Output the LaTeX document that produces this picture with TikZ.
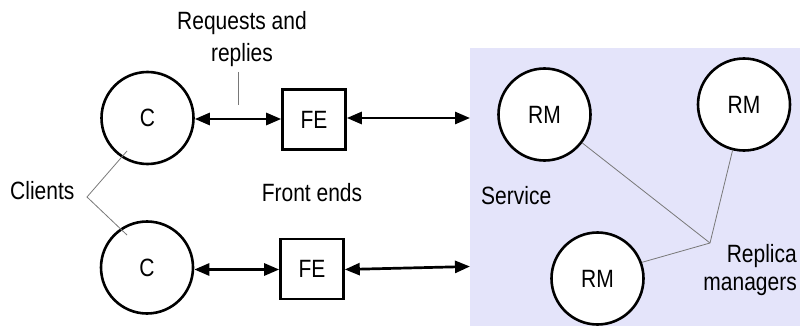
\documentclass[tikz,border=0pt]{standalone}
\usepackage{fontspec}
\setmainfont{Liberation Sans}[FakeStretch=0.84]
\usetikzlibrary{arrows.meta,calc}
\definecolor{svc}{RGB}{228,228,250}
\definecolor{thin}{RGB}{120,120,120}
\begin{document}
\begin{tikzpicture}[x=1pt,y=-1pt,
  font=\fontsize{25}{30}\selectfont,
  circ/.style={circle,draw,line width=2.6pt,minimum size=92pt,inner sep=0pt,fill=white},
  febox/.style={draw,line width=2.6pt,minimum width=63pt,minimum height=60pt,inner sep=0pt},
  arr/.style={line width=2.7pt,{Triangle[length=15pt,width=12pt]}-{Triangle[length=15pt,width=12pt]}},
  lbl/.style={inner sep=0pt},
  thinline/.style={draw=thin,line width=0.8pt}]
\useasboundingbox (0,0) rectangle (800,326);
% service area
\node[fill=svc,draw=none,minimum width=330pt,minimum height=278pt,anchor=north west,inner sep=0pt] (svc) at (470,48) {};
% clients
\node[circ] (c1) at (147.5,118) {C};
\node[circ] (c2) at (147,267.5) {C};
% front ends
\node[febox] (fe1) at (314,119.5) {FE};
\node[febox] (fe2) at (312,269) {FE};
% replica managers
\node[circ] (rm1) at (544.5,114.5) {RM};
\node[circ] (rm2) at (744,104.5) {RM};
\node[circ] (rm3) at (597.5,278.5) {RM};
% arrows
\draw[arr] (c1.east |- 0,119) -- (fe1.west |- 0,119);
\draw[arr] (c2.east |- 0,269.5) -- (fe2.west |- 0,269.5);
\coordinate (s1) at (svc.west |- 0,118);
\coordinate (s2) at (svc.west |- 0,266.5);
\draw[arr] (fe1.east |- 0,118) -- (s1);
\draw[arr] (fe2.east |- 0,269.5) -- (s2);
% labels
\node[lbl,align=center,font=\fontsize{25}{32}\selectfont] (req) at (242,39) {Requests and\\replies};
\coordinate (reqtop) at (238,72);
\coordinate (reqbot) at (238,105);
\draw[thinline] (reqtop) -- (reqbot);
\node[lbl,anchor=west] (cl) at (10,191) {Clients};
\coordinate (clj) at (87,197);
\coordinate (cla) at (127,151);
\coordinate (clb) at (127,235);
\draw[thinline] (cla) -- (clj) -- (clb);
\node[lbl] (fends) at (312,193) {Front ends};
\node[lbl,anchor=west] (serv) at (481,196) {Service};
\node[lbl,align=right,anchor=east,font=\fontsize{25}{28}\selectfont] (repl) at (797,270) {Replica\\managers};
\coordinate (rmj) at (710,243);
\draw[thinline] (rm1.-37) -- (rmj);
\draw[thinline] (rm2.-104) -- (rmj);
\draw[thinline] (rm3.20) -- (rmj);
\end{tikzpicture}
\end{document}
